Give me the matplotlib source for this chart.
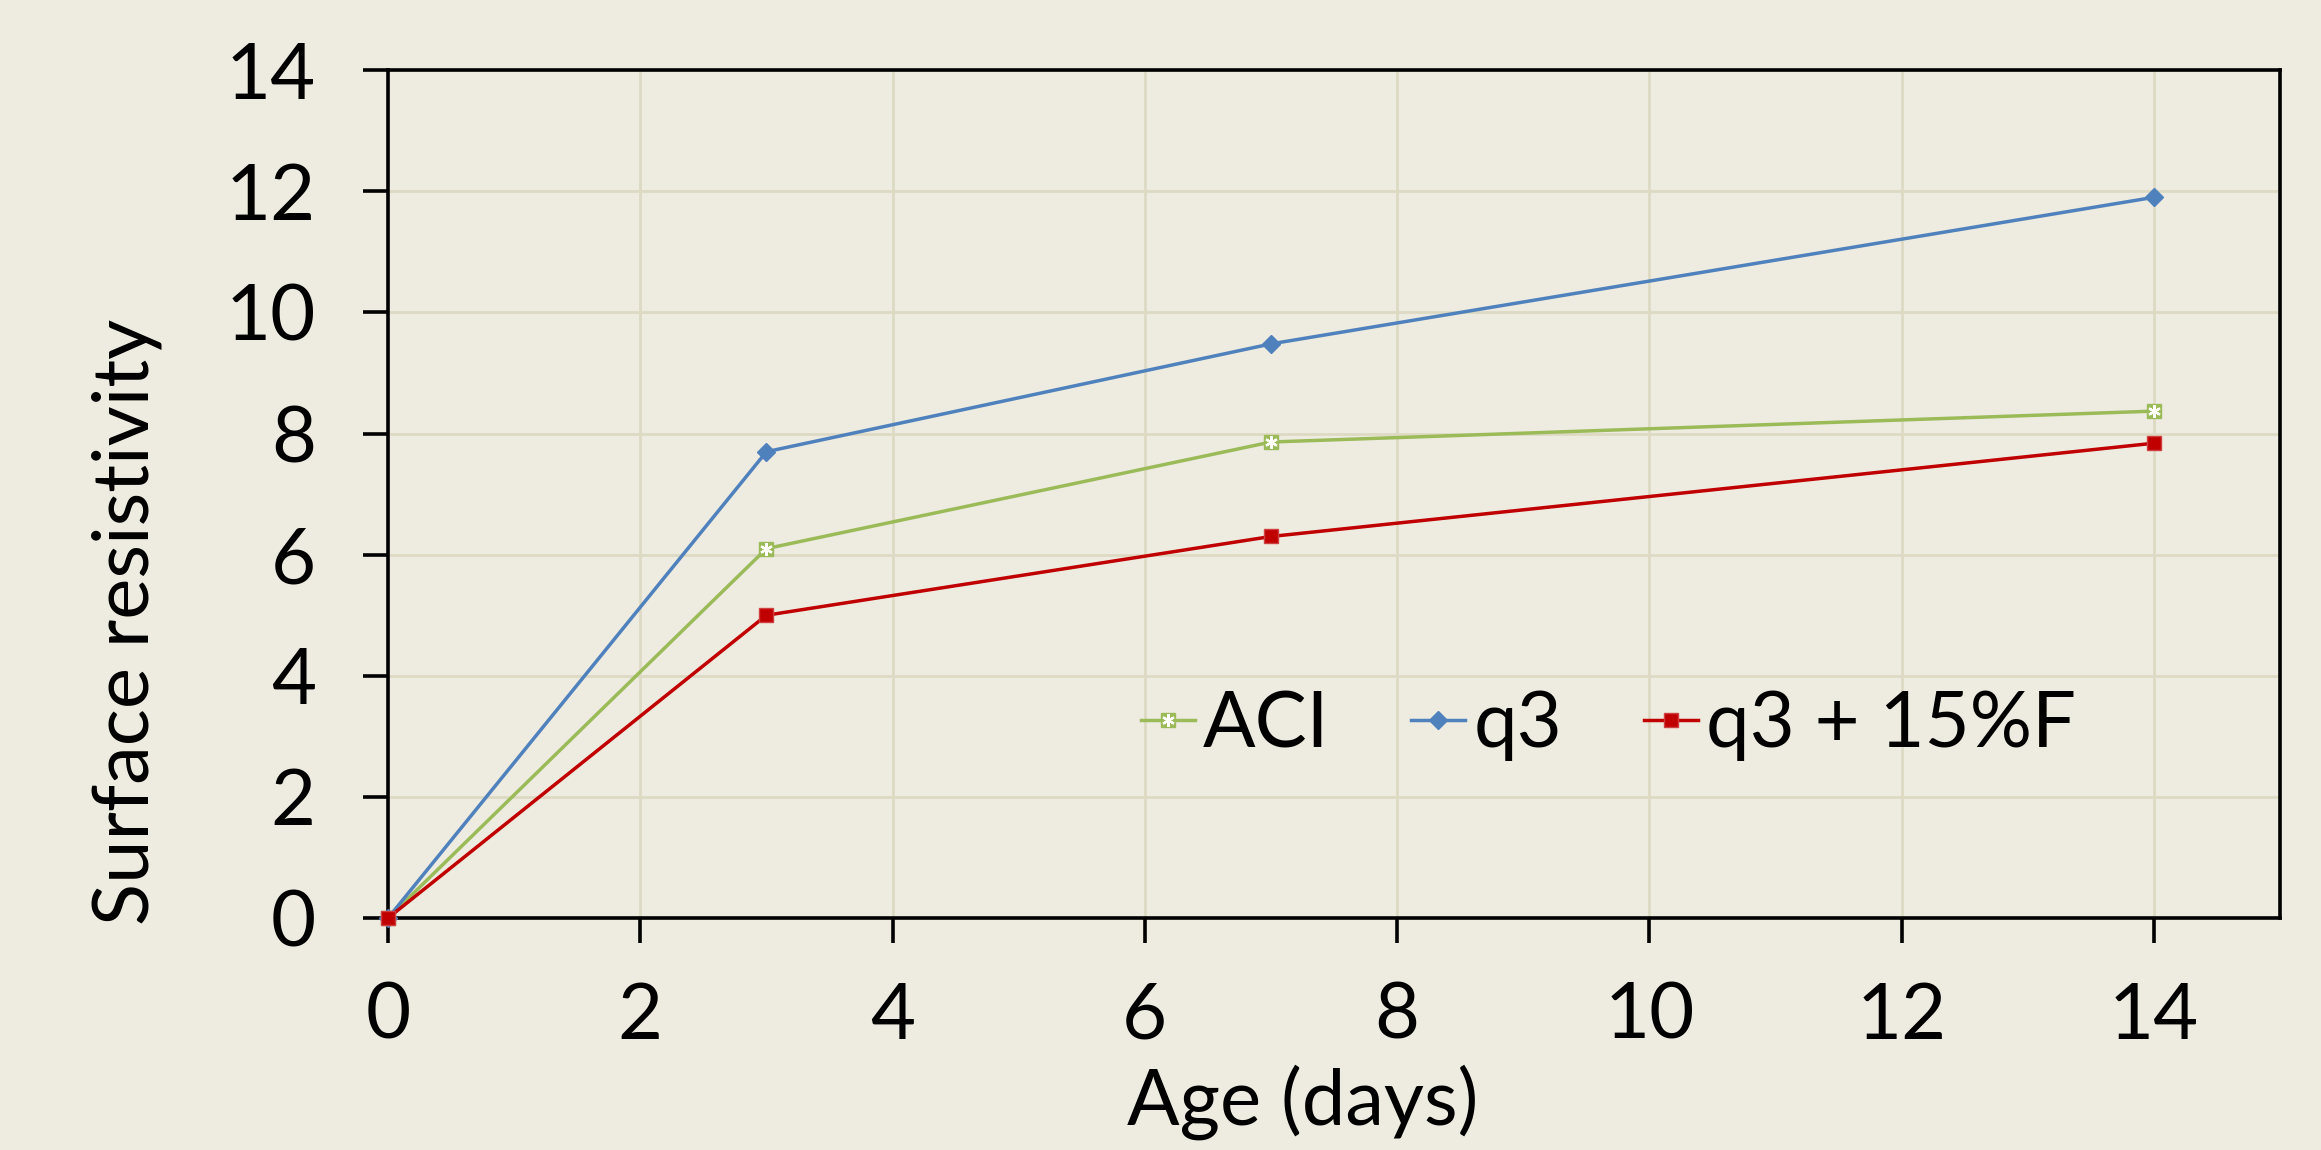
import matplotlib.pyplot as plt
from matplotlib.legend_handler import HandlerTuple

age = [0, 3, 7, 14]
aci = [0, 6.1, 7.86, 8.37]
q3 = [0, 7.7, 9.48, 11.9]
q3_15f = [0, 5.0, 6.3, 7.84]

bg = '#EEECE1'
plt.rcParams['font.family'] = ['Lato', 'DejaVu Sans']

fig = plt.figure(figsize=(23.21, 11.5), dpi=100, facecolor=bg)
ax = fig.add_axes([0.1672, 0.2017, 0.8151, 0.7373], facecolor=bg)

aci_sq, = ax.plot(age, aci, color='#9BBB59', lw=2.5, marker='s', ms=10,
                  mfc='#9BBB59', mec='#9BBB59', zorder=3, clip_on=False)
aci_x, = ax.plot(age, aci, ls='none', marker=(6, 2, 0), ms=9,
                 mec='white', mew=1.6, zorder=4, clip_on=False)
ln_q3, = ax.plot(age, q3, color='#4F81BD', lw=2.5, marker='D', ms=9,
                 mfc='#4F81BD', mec='#4F81BD', zorder=3, clip_on=False)
ln_f, = ax.plot(age, q3_15f, color='#C00000', lw=2.5, marker='s', ms=10,
                mfc='#C00000', mec='#D04040', zorder=5, clip_on=False)

ax.set_xlim(0, 15)
ax.set_ylim(0, 14)
ax.set_xticks(range(0, 15, 2))
ax.set_yticks(range(0, 15, 2))
ax.grid(True, color='#DDD9C3', lw=2)
ax.set_axisbelow(True)
for s in ax.spines.values():
    s.set_linewidth(2.6)
    s.set_color('black')
ax.tick_params(direction='out', length=18, width=2.6, labelsize=56,
               pad=28)
ax.tick_params(axis='y', pad=34)

ax.set_ylabel('Surface resistivity', fontsize=56)
ax.yaxis.set_label_coords(-0.119, 0.349)
ax.set_xlabel('Age (days)', fontsize=56, labelpad=8)
ax.xaxis.label.set_x(0.4836)

ax.legend([(aci_sq, aci_x), ln_q3, ln_f], ['ACI', 'q3', 'q3 + 15%F'],
          handler_map={tuple: HandlerTuple(ndivide=1, pad=0)},
          ncol=3, frameon=False, fontsize=56, loc='center',
          bbox_to_anchor=(0.645, 0.227), handlelength=0.7,
          handletextpad=0.1, columnspacing=1.05)

fig.savefig('out.png', dpi=100, facecolor=bg)
